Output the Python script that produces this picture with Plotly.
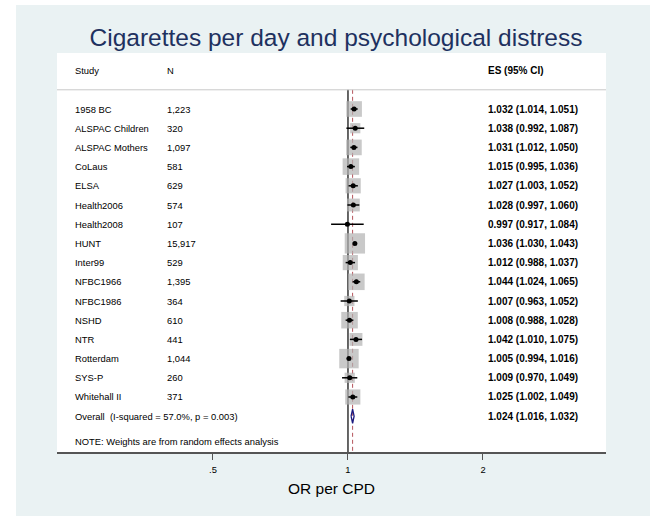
import math
import plotly.graph_objects as go

# ---------------- data ----------------
studies = ["1958 BC", "ALSPAC Children", "ALSPAC Mothers", "CoLaus", "ELSA",
           "Health2006", "Health2008", "HUNT", "Inter99", "NFBC1966",
           "NFBC1986", "NSHD", "NTR", "Rotterdam", "SYS-P", "Whitehall II"]
n_labels = ["1,223", "320", "1,097", "581", "629", "574", "107", "15,917",
            "529", "1,395", "364", "610", "441", "1,044", "260", "371"]
es = [1.032, 1.038, 1.031, 1.015, 1.027, 1.028, 0.997, 1.036, 1.012, 1.044,
      1.007, 1.008, 1.042, 1.005, 1.009, 1.025]
lo = [1.014, 0.992, 1.012, 0.995, 1.003, 0.997, 0.917, 1.030, 0.988, 1.024,
      0.963, 0.988, 1.010, 0.994, 0.970, 1.002]
hi = [1.051, 1.087, 1.050, 1.036, 1.052, 1.060, 1.084, 1.043, 1.037, 1.065,
      1.052, 1.028, 1.075, 1.016, 1.049, 1.049]
weights = [6.8, 2.9, 6.8, 7.6, 6.4, 4.6, 0.5, 11.5, 6.4, 7.6, 2.9, 7.6,
           4.6, 10.5, 2.9, 6.4]
overall_label = "Overall  (I-squared = 57.0%, p = 0.003)"
overall = [1.024, 1.016, 1.032]  # es, lo, hi
tick_vals = [0.5, 1, 2]
tick_text = [".5", "1", "2"]
title_text = "Cigarettes per day and psychological distress"
xlabel = "OR per CPD"
note_text = "NOTE: Weights are from random effects analysis"

# ---------------- layout constants ----------------
W, H = 650, 516
L, R, T, B = 57, 44, 53, 64
pw = W - L - R
ph = H - T - B
X_MIN, X_MAX = 0.2245, 3.761
Y_TOP, Y_BOT = -2.917, 17.865
FONT = "Liberation Sans, Arial, sans-serif"
rows = list(range(len(studies)))
row_overall = len(studies)

def px(xp):
    return (xp - L) / pw

fig = go.Figure()

# null line and overall dashed line
fig.add_trace(go.Scatter(x=[1, 1], y=[-1, Y_BOT], mode="lines",
                         line=dict(color="black", width=1.2), hoverinfo="skip"))
fig.add_trace(go.Scatter(x=[overall[0], overall[0]], y=[-1, Y_BOT], mode="lines",
                         line=dict(color="#b5545c", width=1, dash="4px,3px"),
                         hoverinfo="skip"))

# weight boxes
fig.add_trace(go.Scatter(
    x=es, y=rows, mode="markers",
    marker=dict(symbol="square", color="#b2b2b2",
                size=[6.0 * math.sqrt(w) for w in weights],
                line=dict(width=0)),
    hoverinfo="skip"))

# CI lines
cx, cy = [], []
for a, b, r in zip(lo, hi, rows):
    cx += [a, b, None]
    cy += [r, r, None]
fig.add_trace(go.Scatter(x=cx, y=cy, mode="lines",
                         line=dict(color="black", width=1.5), hoverinfo="skip"))

# point estimates
fig.add_trace(go.Scatter(x=es, y=rows, mode="markers",
                         marker=dict(symbol="circle", color="black", size=5),
                         hoverinfo="skip"))

# overall diamond
dh = 0.37
fig.add_trace(go.Scatter(
    x=[overall[1], overall[0], overall[2], overall[0], overall[1]],
    y=[row_overall, row_overall - dh, row_overall, row_overall + dh, row_overall],
    mode="lines", line=dict(color="#1a1a80", width=1.3), hoverinfo="skip"))

ann = []
def txt(x, y, s, bold=False, size=9.4):
    ann.append(dict(x=x, y=y, xref="paper", yref="y", text=("<b>%s</b>" % s) if bold else s,
                    showarrow=False, xanchor="left", yanchor="middle",
                    font=dict(family=FONT, size=size, color="black")))

ES_SIZE = 10
txt(px(73), -2.03, "Study")
txt(px(165), -2.03, "N")
txt(px(486), -2.03, "ES (95% CI)", bold=True, size=ES_SIZE)
for r, s, n, e, a, b in zip(rows, studies, n_labels, es, lo, hi):
    txt(px(73), r, s)
    txt(px(165), r, n)
    txt(px(486), r, "%.3f (%.3f, %.3f)" % (e, a, b), bold=True, size=ES_SIZE)
txt(px(73), row_overall, overall_label)
txt(px(486), row_overall, "%.3f (%.3f, %.3f)" % tuple(overall), bold=True, size=ES_SIZE)
txt(px(73), 17.3, note_text)

shapes = [
    # white outer margins
    dict(type="rect", xref="paper", yref="paper", x0=px(0), x1=px(16),
         y0=-B / ph, y1=1 + T / ph, fillcolor="white",
         line=dict(width=0), layer="below"),
    dict(type="rect", xref="paper", yref="paper", x0=px(0), x1=px(W),
         y0=1 + (T - 5) / ph, y1=1 + T / ph, fillcolor="white",
         line=dict(width=0), layer="below"),
    # header separator
    dict(type="line", xref="paper", yref="y", x0=0, x1=1, y0=-1, y1=-1,
         line=dict(color="#c8c8c8", width=1)),
]

fig.update_layout(
    width=W, height=H,
    margin=dict(l=L, r=R, t=T, b=B),
    paper_bgcolor="#eaf2f3", plot_bgcolor="white",
    showlegend=False,
    title=dict(text=title_text, x=336 / W, xanchor="center", y=1 - 37 / H, yanchor="middle",
               font=dict(family=FONT, size=24.5, color="#1e3160")),
    xaxis=dict(type="log", range=[math.log10(X_MIN), math.log10(X_MAX)],
               tickvals=tick_vals, ticktext=tick_text,
               showline=True, linecolor="#555555", linewidth=1.5,
               ticks="outside", ticklen=6, tickcolor="#555555", tickwidth=1,
               ticklabelstandoff=2,
               showgrid=False, zeroline=False,
               tickfont=dict(family=FONT, size=9.4, color="black"),
               title=dict(text=xlabel, font=dict(family=FONT, size=15.5, color="black"),
                          standoff=9)),
    yaxis=dict(range=[Y_BOT, Y_TOP], visible=False, showgrid=False, zeroline=False),
    annotations=ann,
    shapes=shapes,
)

fig.write_html("out.html", config={"displayModeBar": False},
               post_script="document.body.style.margin='0';")
